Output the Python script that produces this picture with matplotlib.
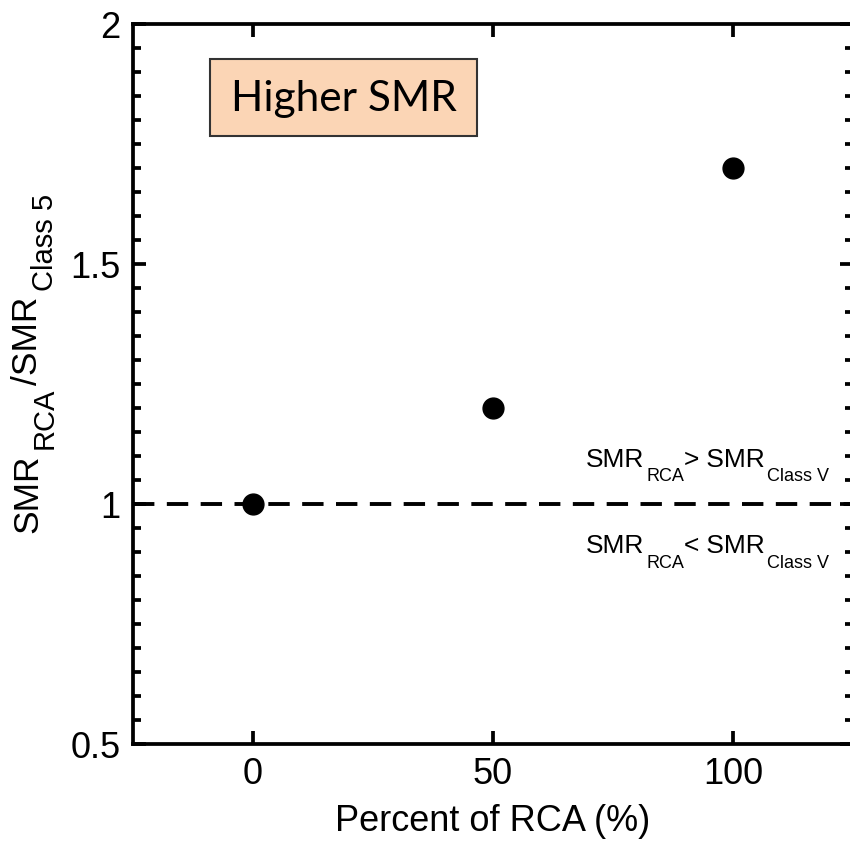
import matplotlib
matplotlib.use("Agg")
import matplotlib.pyplot as plt
from matplotlib.patches import Rectangle
from matplotlib.ticker import MultipleLocator
from matplotlib.transforms import IdentityTransform

plt.rcParams['font.family'] = ['Liberation Sans', 'DejaVu Sans']

percent_rca = [0, 50, 100]
smr_ratio = [1.0, 1.2, 1.7]
reference_level = 1.0
x_ticks = [0, 50, 100]
y_ticks = [0.5, 1.0, 1.5, 2.0]
y_tick_labels = ['0.5', '1', '1.5', '2']

W, H = 850, 845
fig = plt.figure(figsize=(W / 100, H / 100), dpi=100)
ax = fig.add_axes([133 / W, 1 - 745 / H, 720 / W, 720 / H])
renderer = fig.canvas.get_renderer()

ax.set_xlim(-25, 125)
ax.set_ylim(0.5, 2.0)

ax.axhline(reference_level, color='black', lw=2.8, dashes=(5.5, 3.2), zorder=2)
ax.plot(percent_rca, smr_ratio, 'o', color='black', ms=15, zorder=3)

for s in ax.spines.values():
    s.set_linewidth(2.7)

ax.set_xticks(x_ticks)
ax.set_xticklabels([str(v) for v in x_ticks])
ax.set_yticks(y_ticks)
ax.set_yticklabels(y_tick_labels)
ax.yaxis.set_minor_locator(MultipleLocator(0.05))
ax.tick_params(axis='both', which='major', direction='in', length=9.5, width=2.7,
               labelsize=26, top=True, right=True, pad=9)
ax.tick_params(axis='y', which='minor', direction='in', length=6, width=2.7,
               left=True, right=True)
ax.tick_params(axis='x', which='minor', bottom=False, top=False)

ax.set_xlabel('Percent of RCA (%)', fontsize=26, labelpad=8)


def text_width(s, size):
    t = fig.text(0, 0, s, fontsize=size, transform=IdentityTransform())
    w = t.get_window_extent(renderer).width
    t.remove()
    return w


def chain(pieces, x0, y0, rotation=0, right_align=False):
    """pieces: (text, size, drop_px, gap_px); x0,y0 in image pixels (top-left origin)."""
    widths = [text_width(p[0], p[1]) for p in pieces]
    total = sum(widths) + sum(p[3] for p in pieces)
    pos = -total if right_align else 0.0
    for (s, size, drop, gap), w in zip(pieces, widths):
        pos += gap
        if rotation == 0:
            xd, yd = x0 + pos, H - (y0 + drop)
        else:
            xd, yd = x0 + drop, H - (y0 - pos)
        fig.text(xd, yd, s, fontsize=size, transform=IdentityTransform(),
                 rotation=rotation, rotation_mode='anchor', ha='left', va='baseline')
        pos += w


# y-axis label: SMR_RCA / SMR_Class 5
chain([('SMR', 25.5, 0, 0), ('RCA', 21, 16, 5), ('/SMR', 25.5, 0, 3),
       ('Class 5', 21, 16, 6)], 37, 533, rotation=90)

# region annotations
chain([('SMR', 19, 0, 0), ('RCA', 13, 14, 2), ('>', 19, 0, 0), (' SMR', 19, 0, 0),
       ('Class V', 13, 14, 2)], 829, 467, right_align=True)
chain([('SMR', 19, 0, 0), ('RCA', 13, 15, 2), ('<', 19, 0, 0), (' SMR', 19, 0, 0),
       ('Class V', 13, 15, 2)], 829, 553, right_align=True)

rect = Rectangle((210 / W, 1 - 137 / H), 267 / W, 77 / H, transform=fig.transFigure,
                 facecolor='#FBD5B5', edgecolor='#333333', lw=1.5, zorder=5)
fig.patches.append(rect)
fig.text(344 / W, 1 - 99 / H, 'Higher SMR', fontsize=30.5, family='Lato',
         ha='center', va='center', zorder=6)

fig.savefig('out.png', dpi=100)
